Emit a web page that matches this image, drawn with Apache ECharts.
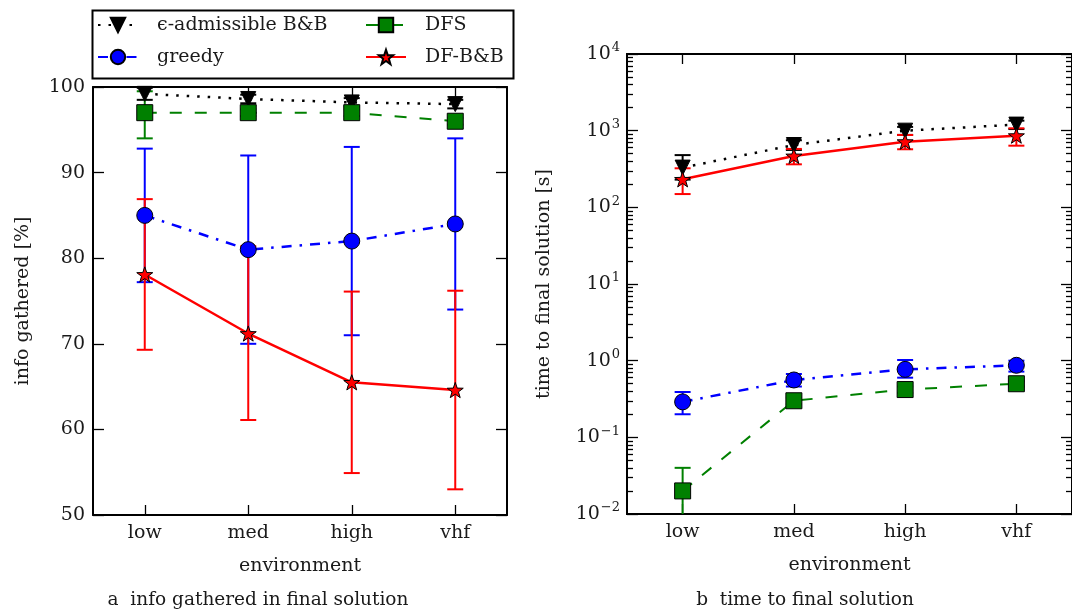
<!DOCTYPE html>
<html><head><meta charset="utf-8">
<script src="https://cdn.jsdelivr.net/npm/echarts@6/dist/echarts.min.js"></script>
<style>html,body{margin:0;padding:0;background:#fff}#c{width:1072px;height:615px}</style>
</head><body><div id="c"></div>
<script>
// ---------- data ----------
const categories = ['low', 'med', 'high', 'vhf'];
const nameEps = 'ϵ-admissible B&B';
const nameGreedy = 'greedy';
const nameDFS = 'DFS';
const nameDFBB = 'DF-B&B';

// (a) info gathered [%]
const infoEps = [99.2, 98.6, 98.2, 98.0];
const infoEpsLo = [98.5, 98.1, 97.7, 97.5];
const infoEpsHi = [99.9, 99.1, 98.7, 98.5];
const infoGreedy = [85.0, 81.0, 82.0, 84.0];
const infoGreedyLo = [77.2, 70.0, 71.0, 74.0];
const infoGreedyHi = [92.8, 92.0, 93.0, 94.0];
const infoDFS = [97.0, 97.0, 97.0, 96.0];
const infoDFSLo = [94.0, 96.6, 96.6, 95.6];
const infoDFSHi = [99.5, 97.4, 97.4, 96.4];
const infoDFBB = [78.1, 71.2, 65.5, 64.6];
const infoDFBBLo = [69.3, 61.1, 54.9, 53.0];
const infoDFBBHi = [86.9, 81.4, 76.1, 76.2];

// (b) time to final solution [s]
const timeEps = [330, 650, 1000, 1200];
const timeEpsLo = [230, 560, 880, 1050];
const timeEpsHi = [480, 750, 1120, 1350];
const timeGreedy = [0.29, 0.56, 0.77, 0.87];
const timeGreedyLo = [0.20, 0.46, 0.60, 0.72];
const timeGreedyHi = [0.39, 0.67, 1.02, 1.00];
const timeDFS = [0.02, 0.30, 0.42, 0.50];
const timeDFSLo = [0.001, 0.27, 0.38, 0.46];
const timeDFSHi = [0.04, 0.33, 0.46, 0.54];
const timeDFBB = [232, 468, 719, 861];
const timeDFBBLo = [149, 364, 572, 637];
const timeDFBBHi = [323, 578, 879, 1074];

// axis tick values
const infoTicks = [50, 60, 70, 80, 90, 100];
const timeTicks = [0.01, 0.1, 1, 10, 100, 1000, 10000];
// ---------- styling ----------
const FONT = 'DejaVu Serif';
const FS = 19;
const TXT = '#1a1a1a';
const cBlack = '#000000', cGreen = '#008000', cBlue = '#0000ff', cRed = '#ff0000';
const starPath = 'path://M0,-10L2.35,-3.24L9.51,-3.09L3.8,1.24L5.88,8.09L0,4L-5.88,8.09L-3.8,1.24L-9.51,-3.09L-2.35,-3.24Z';

// minor log ticks in log10 space (axis decoration)
const minorLog = [];
for (let k = -2; k < 4; k++) for (let m = 2; m <= 9; m++) minorLog.push(k + Math.log10(m));
const majorLog = [-2, -1, 0, 1, 2, 3, 4];

function errSeries(xi, yi, lo, hi, color, z) {
  return {
    type: 'custom', name: 'err' + xi + color, xAxisIndex: xi, yAxisIndex: yi, z: z,
    clip: true, silent: true, encode: {x: 0, y: [1, 2]},
    data: lo.map((l, i) => [i, l, hi[i]]),
    renderItem(params, api) {
      const x = api.value(0);
      const a = api.coord([x, api.value(1)]);
      const b = api.coord([x, api.value(2)]);
      const w = 8;
      const st = {stroke: color, lineWidth: 2};
      return {type: 'group', children: [
        {type: 'line', shape: {x1: a[0], y1: a[1], x2: b[0], y2: b[1]}, style: st},
        {type: 'line', shape: {x1: a[0] - w, y1: a[1], x2: a[0] + w, y2: a[1]}, style: st},
        {type: 'line', shape: {x1: b[0] - w, y1: b[1], x2: b[0] + w, y2: b[1]}, style: st}
      ]};
    }
  };
}
function lineSeries(name, xi, yi, data, color, dash, width, symbol, size, rot) {
  return {
    type: 'line', name: name, xAxisIndex: xi, yAxisIndex: yi, data: data, z: 5,
    symbol: symbol, symbolSize: size, symbolRotate: rot || 0, symbolKeepAspect: true,
    showAllSymbol: true,
    lineStyle: {color: color, width: width, type: dash, cap: 'butt'},
    itemStyle: {color: color, borderColor: '#000', borderWidth: 1},
    emphasis: {disabled: true}
  };
}
const ticksInside = (len) => ({show: true, inside: true, length: len, lineStyle: {color: '#000', width: 1.3}});
const frameLine = {show: true, onZero: false, lineStyle: {color: '#000', width: 2}};
const lbl = {color: TXT, fontFamily: FONT, fontSize: FS};
const nameStyle = {color: TXT, fontFamily: FONT, fontSize: FS};

function xAxes(grid) {
  return [
    {type: 'category', gridIndex: grid, position: 'bottom', data: categories, boundaryGap: true,
     axisLine: frameLine, axisTick: Object.assign(ticksInside(10), {alignWithLabel: true}),
     axisLabel: Object.assign({margin: 9}, lbl),
     name: 'environment', nameLocation: 'middle', nameGap: 42, nameTextStyle: nameStyle},
    {type: 'category', gridIndex: grid, position: 'top', data: categories, boundaryGap: true,
     axisLine: frameLine, axisTick: Object.assign(ticksInside(10), {alignWithLabel: true}),
     axisLabel: {show: false}}
  ];
}
const supFmt = (v) => {
  const e = Math.round(Math.log10(v));
  return '{b|10}{s|' + (e < 0 ? '\u2212' + (-e) : e) + '}';
};
const richLbl = {
  b: {fontFamily: FONT, fontSize: FS, color: TXT},
  s: {fontFamily: FONT, fontSize: 13, color: TXT, padding: [0, 0, 12, 1]}
};

const option = {
  animation: false,
  backgroundColor: '#fff',
  grid: [
    {left: 93, top: 87, width: 414, height: 428},
    {left: 627, top: 54, width: 446, height: 460}
  ],
  legend: [
    {orient: 'vertical', left: 92, top: 10, itemWidth: 40, itemHeight: 18, itemGap: 12,
     data: [nameEps, nameGreedy], selectedMode: false,
     textStyle: {fontFamily: FONT, fontSize: FS, color: TXT, padding: [0, 0, 0, 14], lineHeight: 20}},
    {orient: 'vertical', left: 360, top: 10, itemWidth: 40, itemHeight: 18, itemGap: 12,
     data: [nameDFS, nameDFBB], selectedMode: false,
     textStyle: {fontFamily: FONT, fontSize: FS, color: TXT, padding: [0, 0, 0, 14], lineHeight: 20}}
  ],
  graphic: [
    {type: 'rect', left: 90, top: 8, shape: {width: 421, height: 68}, style: {fill: 'none', stroke: '#000', lineWidth: 2}, z: 10},
    {type: 'text', x: 258, y: 600, style: {text: 'a  info gathered in final solution', fill: TXT, font: '18.5px "DejaVu Serif"', align: 'center', verticalAlign: 'middle'}},
    {type: 'text', x: 805, y: 600, style: {text: 'b  time to final solution', fill: TXT, font: '18.5px "DejaVu Serif"', align: 'center', verticalAlign: 'middle'}}
  ],
  xAxis: [].concat(xAxes(0), xAxes(1)),
  yAxis: [
    {type: 'value', gridIndex: 0, position: 'left', min: infoTicks[0], max: infoTicks[infoTicks.length - 1], interval: 10,
     axisLine: frameLine, axisTick: ticksInside(11), splitLine: {show: false},
     axisLabel: Object.assign({margin: 8}, lbl),
     name: 'info gathered [%]', nameLocation: 'middle', nameGap: 60, nameTextStyle: nameStyle},
    {type: 'value', gridIndex: 0, position: 'right', min: infoTicks[0], max: infoTicks[infoTicks.length - 1], interval: 10,
     axisLine: frameLine, axisTick: ticksInside(11), splitLine: {show: false}, axisLabel: {show: false}},
    {type: 'log', gridIndex: 1, position: 'left', logBase: 10, min: timeTicks[0], max: timeTicks[timeTicks.length - 1],
     axisLine: frameLine, axisTick: Object.assign(ticksInside(11), {customValues: timeTicks}),
     splitLine: {show: false},
     axisLabel: {margin: 7, formatter: supFmt, rich: richLbl, customValues: timeTicks},
     name: 'time to final solution [s]', nameLocation: 'middle', nameGap: 73, nameTextStyle: nameStyle},
    {type: 'value', gridIndex: 1, position: 'left', min: -2, max: 4,
     axisLine: frameLine, axisTick: Object.assign(ticksInside(6), {customValues: minorLog}),
     splitLine: {show: false}, axisLabel: {show: false}},
    {type: 'value', gridIndex: 1, position: 'right', min: -2, max: 4,
     axisLine: frameLine, axisTick: Object.assign(ticksInside(11), {customValues: majorLog}),
     splitLine: {show: false}, axisLabel: {show: false}},
    {type: 'value', gridIndex: 1, position: 'right', min: -2, max: 4,
     axisLine: frameLine, axisTick: Object.assign(ticksInside(6), {customValues: minorLog}),
     splitLine: {show: false}, axisLabel: {show: false}}
  ],
  series: [
    errSeries(0, 0, infoEpsLo, infoEpsHi, cBlack, 2),
    errSeries(0, 0, infoDFSLo, infoDFSHi, cGreen, 2),
    errSeries(0, 0, infoGreedyLo, infoGreedyHi, cBlue, 2),
    errSeries(0, 0, infoDFBBLo, infoDFBBHi, cRed, 3),
    lineSeries(nameEps, 0, 0, infoEps, cBlack, [2.5, 8], 2.5, 'triangle', 15, 180),
    lineSeries(nameGreedy, 0, 0, infoGreedy, cBlue, [10, 8, 2.5, 8], 2.5, 'circle', 16),
    lineSeries(nameDFS, 0, 0, infoDFS, cGreen, [12, 13], 2, 'rect', 16),
    lineSeries(nameDFBB, 0, 0, infoDFBB, cRed, 'solid', 2.5, starPath, 16),

    errSeries(2, 2, timeEpsLo, timeEpsHi, cBlack, 2),
    errSeries(2, 2, timeDFSLo, timeDFSHi, cGreen, 2),
    errSeries(2, 2, timeGreedyLo, timeGreedyHi, cBlue, 2),
    errSeries(2, 2, timeDFBBLo, timeDFBBHi, cRed, 3),
    lineSeries(nameEps, 2, 2, timeEps, cBlack, [2.5, 8], 2.5, 'triangle', 15, 180),
    lineSeries(nameGreedy, 2, 2, timeGreedy, cBlue, [10, 8, 2.5, 8], 2.5, 'circle', 16),
    lineSeries(nameDFS, 2, 2, timeDFS, cGreen, [12, 13], 2, 'rect', 16),
    lineSeries(nameDFBB, 2, 2, timeDFBB, cRed, 'solid', 2.5, starPath, 16)
  ]
};
const chart = echarts.init(document.getElementById('c'), null, {renderer: 'canvas'});
chart.setOption(option);
</script></body></html>
